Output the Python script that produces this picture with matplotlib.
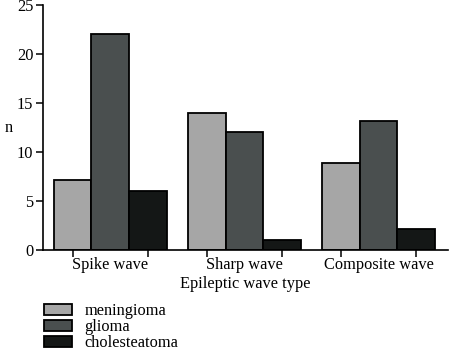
import matplotlib
matplotlib.use("Agg")
import matplotlib.pyplot as plt
import numpy as np

categories = ["Spike wave", "Sharp wave", "Composite wave"]
series_names = ["meningioma", "glioma", "cholesteatoma"]
meningioma = [7.1, 14.0, 8.9]
glioma = [22.0, 12.0, 13.2]
cholesteatoma = [6.0, 1.0, 2.1]
yticks = [0, 5, 10, 15, 20, 25]

colors = ["#a6a6a6", "#4a4f4f", "#141716"]

plt.rcParams['font.family'] = ['Liberation Serif', 'DejaVu Serif']
FS = 11.8

fig = plt.figure(figsize=(4.49, 3.51), dpi=100)
ax = fig.add_axes([43/449, 1 - 250/351, (448 - 43)/449, (250 - 5)/351])

gap = 3.57
centers = np.arange(len(categories)) * gap
all_vals = [meningioma, glioma, cholesteatoma]
bar_pos = []
for k, (vals, name, c) in enumerate(zip(all_vals, series_names, colors)):
    xs = centers + (k - 1)
    bar_pos.extend(xs)
    ax.bar(xs, vals, width=1.0, color=c, edgecolor="black", linewidth=1.3,
           label=name)

ax.set_xlim(-1.79, centers[-1] + 1.5 + 0.35)
ax.set_ylim(0, 25)
ax.set_yticks(yticks)
ax.set_xticks(sorted(bar_pos), minor=True)
ax.set_xticks(centers)
ax.set_xticklabels(categories)
ax.tick_params(axis='x', which='major', length=0, pad=5, labelsize=FS)
ax.tick_params(axis='x', which='minor', length=5, width=1.1, direction='out')
ax.tick_params(axis='y', length=5, width=1.1, labelsize=FS, pad=2)
for s in ["top", "right"]:
    ax.spines[s].set_visible(False)
for s in ["left", "bottom"]:
    ax.spines[s].set_linewidth(1.2)

ax.set_xlabel("Epileptic wave type", fontsize=FS, labelpad=2)
ax.set_ylabel("n", fontsize=FS, rotation=0, va="center", ha="center")
ax.yaxis.set_label_coords(-0.085, 0.5)

fig.legend(loc="upper left", bbox_to_anchor=(36/449, 1 - 295/351),
           frameon=False, fontsize=FS, handlelength=1.7, handleheight=0.6,
           labelspacing=0.0, handletextpad=0.75, borderpad=0)

fig.savefig("out.png", dpi=100)
